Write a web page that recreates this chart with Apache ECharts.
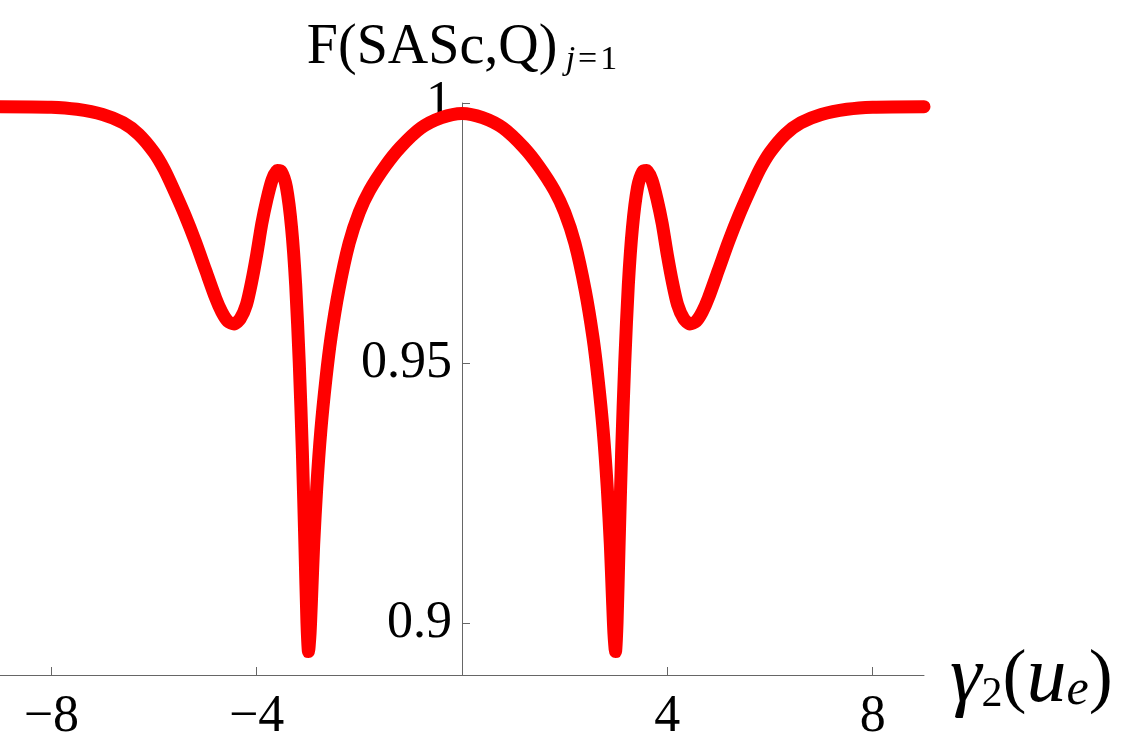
<!DOCTYPE html>
<html>
<head>
<meta charset="utf-8">
<script src="https://cdn.jsdelivr.net/npm/echarts@6/dist/echarts.min.js"></script>
<style>
html,body{margin:0;padding:0;background:#fff;}
#c{width:1125px;height:755px;}
</style>
</head>
<body>
<div id="c"></div>
<script>
// gamma_2(u_e) values
const xs = [
 -9.0,-8.0,-7.5,-7.0,-6.6,-6.3,-6.0,-5.8,-5.6,-5.4,-5.2,-5.0,-4.8,-4.68,-4.56,-4.44,-4.32,-4.2,-4.1,-4.0,-3.9,-3.8,-3.7,-3.6,-3.52,-3.42,-3.32,-3.24,-3.17,-3.11,-3.06,-3.02,-2.99,-2.96,-2.93,-2.89,-2.83,-2.75,-2.65,-2.55,-2.4,-2.2,-2.0,-1.8,-1.5,-1.2,-0.8,-0.4,
 0.0,
 0.4,0.8,1.2,1.5,1.8,2.0,2.2,2.4,2.55,2.65,2.75,2.83,2.89,2.93,2.96,2.99,3.02,3.06,3.11,3.17,3.24,3.32,3.42,3.52,3.6,3.7,3.8,3.9,4.0,4.1,4.2,4.32,4.44,4.56,4.68,4.8,5.0,5.2,5.4,5.6,5.8,6.0,6.3,6.6,7.0,7.5,8.0,9.0
];
// F(SASc,Q)_{j=1} values
const fs = [
 0.9993,0.9992,0.9988,0.9978,0.9962,0.9940,0.9905,0.9872,0.9830,0.9785,0.9735,0.9680,0.9625,0.9598,0.9580,0.9575,0.9585,0.9612,0.9655,0.9708,0.9768,0.9815,0.9852,0.9870,0.9868,0.9838,0.9760,0.9650,0.9500,0.9330,0.9150,0.9000,0.8945,0.8980,0.9050,0.9150,0.9260,0.9370,0.9470,0.9550,0.9640,0.9730,0.9790,0.9832,0.9878,0.9915,0.9952,0.9972,
 0.9980,
 0.9972,0.9952,0.9915,0.9878,0.9832,0.9790,0.9730,0.9640,0.9550,0.9470,0.9370,0.9260,0.9150,0.9050,0.8980,0.8945,0.9000,0.9150,0.9330,0.9500,0.9650,0.9760,0.9838,0.9868,0.9870,0.9852,0.9815,0.9768,0.9708,0.9655,0.9612,0.9585,0.9575,0.9580,0.9598,0.9625,0.9680,0.9735,0.9785,0.9830,0.9872,0.9905,0.9940,0.9962,0.9978,0.9988,0.9992,0.9993
];
const xTicks = [-8, -4, 4, 8];
const xTickLabels = ['\u22128', '\u22124', '4', '8'];
const yTicks = [0.9, 0.95, 1];
const yTickLabels = ['0.9', '0.95', '1'];

const data = xs.map((x, i) => [x, fs[i]]);
const serif = '"Liberation Serif", "Times New Roman", serif';
const axisColor = '#666';

function pick(ticks, labels, v) {
  const n = Number(v);
  const i = ticks.findIndex(t => Math.abs(t - n) < 1e-6);
  return i >= 0 ? labels[i] : '';
}

const GRID_LEFT = 0, GRID_RIGHT = 201, XMIN = -9, XMAX = 9;
const plotW = 1125 - GRID_LEFT - GRID_RIGHT;
const yAxisOffset = -(0 - XMIN) / (XMAX - XMIN) * plotW;

const chart = echarts.init(document.getElementById('c'), null, {renderer: 'canvas'});
chart.setOption({
  animation: false,
  backgroundColor: '#fff',
  grid: {left: GRID_LEFT, right: GRID_RIGHT, top: 103, bottom: 80, containLabel: false, outerBoundsMode: 'none'},
  xAxis: {
    type: 'value', min: XMIN, max: XMAX,
    axisLine: {show: true, onZero: false, lineStyle: {color: axisColor, width: 1}},
    axisTick: {show: true, inside: true, length: 8, customValues: xTicks, lineStyle: {color: axisColor}},
    axisLabel: {
      customValues: xTicks, margin: 16,
      formatter: v => pick(xTicks, xTickLabels, v),
      fontFamily: serif, fontSize: 52, color: '#000'
    },
    splitLine: {show: false},
    name: '{g|\u03b3}{s|2}{p|(}{g|u}{e|e}{p|)}',
    nameLocation: 'end', nameGap: 26,
    nameTextStyle: {
      padding: [10, 0, 0, 0],
      rich: {
        g: {fontFamily: serif, fontStyle: 'italic', fontSize: 80, color: '#000', lineHeight: 72},
        p: {fontFamily: serif, fontSize: 72, color: '#000', lineHeight: 72},
        s: {fontFamily: serif, fontSize: 42, color: '#000', lineHeight: 60, verticalAlign: 'bottom'},
        e: {fontFamily: serif, fontStyle: 'italic', fontSize: 50, color: '#000', lineHeight: 56, verticalAlign: 'bottom'}
      }
    }
  },
  yAxis: {
    type: 'value', min: 0.89, max: 1.0, position: 'left', offset: yAxisOffset,
    axisLine: {show: true, onZero: false, lineStyle: {color: axisColor, width: 1}},
    axisTick: {show: true, inside: true, length: 8, customValues: yTicks, lineStyle: {color: axisColor}},
    axisLabel: {
      show: true, customValues: yTicks, margin: 10, inside: false,
      formatter: v => pick(yTicks, yTickLabels, v),
      fontFamily: serif, fontSize: 52, color: '#000'
    },
    splitLine: {show: false},
    name: '{t|F(SASc,Q)}{j| j}{q|\u200a=\u200a1}',
    nameLocation: 'end', nameGap: 24,
    nameTextStyle: {
      align: 'center',
      rich: {
        t: {fontFamily: serif, fontSize: 56, color: '#000', lineHeight: 58},
        j: {fontFamily: serif, fontStyle: 'italic', fontSize: 34, color: '#000', lineHeight: 30, verticalAlign: 'bottom'},
        q: {fontFamily: serif, fontSize: 34, color: '#000', lineHeight: 30, verticalAlign: 'bottom'}
      }
    }
  },
  series: [{
    type: 'line', data: data, showSymbol: false, smooth: 0.25, clip: true,
    lineStyle: {color: '#ff0000', width: 13, cap: 'round', join: 'round'},
    itemStyle: {color: '#ff0000'}
  }]
});
</script>
</body>
</html>
